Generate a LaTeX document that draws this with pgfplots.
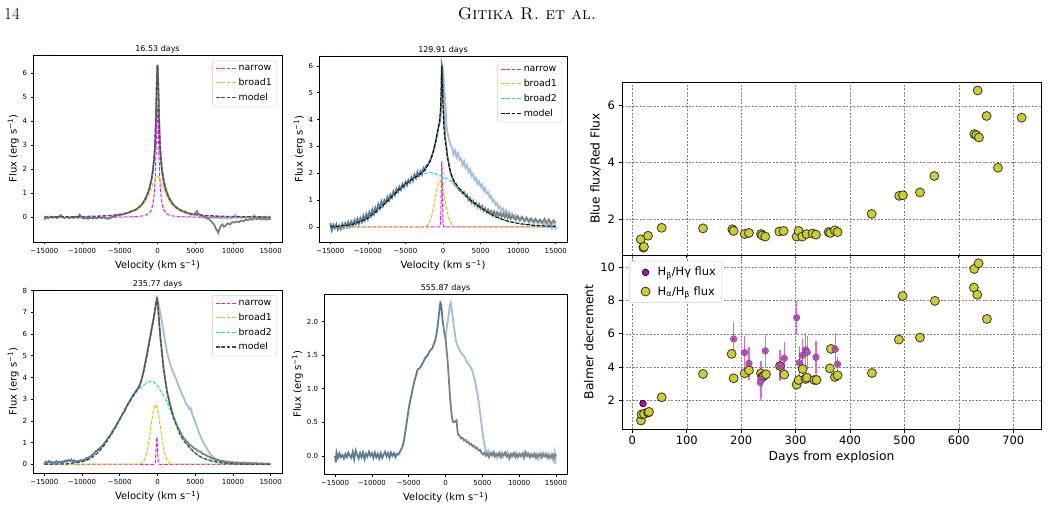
\documentclass[border=0pt]{standalone}
\usepackage{fontspec}
\usepackage{pgfplots}
\pgfplotsset{compat=1.18}
\newfontfamily\dv{DejaVu Sans}
\definecolor{darkb}{RGB}{94,123,149}
\definecolor{lightb}{RGB}{160,190,220}
\definecolor{greyc}{RGB}{128,128,128}
\definecolor{nar}{RGB}{228,30,228}
\definecolor{br1}{RGB}{205,200,20}
\definecolor{br2}{RGB}{50,205,205}
\definecolor{yel}{RGB}{204,204,51}
\definecolor{mag}{RGB}{191,0,191}
\definecolor{magl}{RGB}{212,90,212}
\definecolor{errc}{RGB}{218,105,218}
\pgfplotsset{
  spec/.style={scale only axis, xmin=-16500, xmax=16500,
    xtick={-15000,-10000,-5000,0,5000,10000,15000},
    xticklabels={−15000,−10000,−5000,0,5000,10000,15000},
    scaled x ticks=false, scaled y ticks=false,
    tick align=outside, xtick pos=left, ytick pos=left,
    major tick length=2.5pt, tick style={black,line width=0.6pt},
    axis line style={line width=0.7pt},
    ticklabel style={font=\dv\fontsize{7}{8}\selectfont},
    label style={font=\dv\fontsize{10}{12}\selectfont},
    xlabel={Velocity (km s\textsuperscript{−1})},
    ylabel={Flux (erg s\textsuperscript{−1})},
    ylabel style={xshift=0pt, yshift=-3pt},
    title style={font=\dv\fontsize{8}{9}\selectfont, yshift=-8pt},
    legend image code/.code={\draw[#1, line width=1.4pt] (0pt,0pt) -- (20pt,0pt);},
    legend style={at={(0.98,0.97)}, anchor=north east, font=\dv\fontsize{9.4}{11}\selectfont,
      draw=black!20, rounded corners=2pt, inner xsep=3pt, inner ysep=2.5pt, row sep=2.2pt,
      /tikz/every even column/.append style={column sep=4pt}},
    legend cell align=left},
  dk/.style={darkb, line width=1.8pt},
  lb/.style={lightb, line width=1.8pt},
  gr/.style={greyc, line width=1.8pt},
  nr/.style={nar, line width=1pt, dash pattern=on 3.7pt off 1.6pt},
  b1/.style={br1, line width=1pt, dash pattern=on 3.7pt off 1.6pt},
  b2/.style={br2, line width=1pt, dash pattern=on 3.7pt off 1.6pt},
  md/.style={black, line width=1.0pt, dash pattern=on 3.7pt off 1.6pt},
  mdg/.style={black!70, line width=1.3pt, dash pattern=on 3.7pt off 1.6pt},
  bal/.style={scale only axis, width=419pt, xmin=-19, xmax=751,
    xtick={0,100,200,300,400,500,600,700},
    grid=major, grid style={dash pattern=on 2pt off 1.5pt, black!50, line width=0.5pt},
    tick align=outside, xtick pos=left, ytick pos=left,
    major tick length=3.5pt, tick style={black,line width=0.8pt},
    axis line style={line width=0.8pt},
    ticklabel style={font=\dv\fontsize{11.5}{13}\selectfont},
    label style={font=\dv\fontsize{12.3}{14}\selectfont}},
  ym/.style={only marks, mark=*, mark size=4.5pt, mark options={fill=yel, draw=black, draw opacity=0.75, line width=0.8pt}},
  mm/.style={only marks, mark=*, mark size=3.3pt, mark options={fill=magl, fill opacity=0.8, draw=black!60!mag, draw opacity=0.6, line width=0.6pt}}
}
\begin{document}
\begin{tikzpicture}
\useasboundingbox (0pt,0pt) rectangle (1048pt,506pt);
\node[anchor=base west, inner sep=0pt, font=\fontsize{17}{17}\selectfont] at (4pt,486pt) {14};
\node[anchor=base, inner sep=0pt, font=\fontsize{17}{17}\selectfont] at (527pt,486pt) {\textsc{Gitika R. et al.}};

% ---------- Panel 1 ----------
\begin{axis}[spec, width=249pt, height=187pt, at={(33pt,264pt)}, anchor=south west,
  ymin=-1.03, ymax=6.76, ytick={0,1,2,3,4,5,6}, yticklabels={0,1,2,3,4,5,6},
  title={16.53 days}]
\addlegendimage{nr}\addlegendentry{narrow}
\addlegendimage{b1}\addlegendentry{broad1}
\addlegendimage{mdg}\addlegendentry{model}
\addplot[lb, forget plot] coordinates {(0,6.35)(100,5.6)(200,4.3)(300,3.3)(400,2.7)(600,2.0)(800,1.6)(1000,1.32)(1200,1.1)(1500,0.86)(1700,0.74)(2000,0.58)(2200,0.5)(2500,0.42)(2700,0.37)(3000,0.31)(3200,0.29)(3500,0.26)(3800,0.21)(4100,0.18)(4400,0.14)(4700,0.12)(5000,0.1)(5300,0.08)(5600,0.05)(5900,0.03)(6200,-0.02)(6500,-0.06)(6800,-0.05)(7100,0.0)(7400,-0.03)(7700,0.01)(8000,-0.04)(8300,-0.02)(8600,-0.05)(8900,-0.01)(9200,-0.06)(9500,-0.02)(9800,-0.05)(10100,0.0)(10300,0.1)(10500,-0.02)(10800,0.02)(11100,-0.03)(11400,0.01)(11700,-0.04)(12000,0.02)(12300,-0.03)(12600,0.0)(12800,0.09)(13000,0.03)(13300,-0.03)(13600,0.02)(13900,-0.02)(14200,0.03)(14500,-0.04)(14800,0.02)(15000,-0.1)};
\addplot[gr, forget plot] coordinates {(0,6.3)(100,5.4)(200,4.1)(300,3.2)(400,2.6)(600,1.9)(800,1.52)(1000,1.25)(1200,1.05)(1500,0.8)(2000,0.55)(2500,0.4)(3000,0.3)(3500,0.22)(4000,0.16)(4500,0.11)(4900,0.12)(5100,0.22)(5250,0.26)(5400,0.15)(5700,0.1)(6000,0.06)(6300,0.03)(6600,-0.02)(6900,-0.1)(7200,-0.2)(7500,-0.3)(7700,-0.45)(7900,-0.55)(8050,-0.65)(8200,-0.5)(8400,-0.35)(8600,-0.3)(8800,-0.4)(9000,-0.35)(9300,-0.25)(9600,-0.3)(9900,-0.2)(10200,-0.22)(10500,-0.18)(10800,-0.2)(11100,-0.14)(11400,-0.16)(11700,-0.1)(12000,-0.12)(12300,-0.07)(12600,-0.1)(12900,-0.04)(13200,-0.08)(13500,-0.05)(13800,-0.09)(14100,-0.06)(14400,-0.1)(14700,-0.05)(15000,-0.1)};
\addplot[dk, forget plot] coordinates {(-15000,-0.10)(-14800,0.02)(-14500,-0.04)(-14200,0.03)(-13900,-0.02)(-13600,0.02)(-13300,-0.03)(-13000,0.03)(-12800,0.09)(-12600,0.0)(-12300,-0.03)(-12000,0.02)(-11700,-0.04)(-11400,0.01)(-11100,-0.03)(-10800,0.02)(-10500,-0.02)(-10300,0.10)(-10100,0.0)(-9800,-0.05)(-9500,-0.02)(-9200,-0.06)(-8900,-0.01)(-8600,-0.05)(-8300,-0.02)(-8000,-0.04)(-7700,0.01)(-7400,-0.03)(-7100,0.0)(-6800,-0.05)(-6500,-0.06)(-6200,-0.02)(-5900,0.03)(-5600,0.04)(-5300,0.08)(-5000,0.1)(-4700,0.11)(-4400,0.13)(-4100,0.17)(-3800,0.2)(-3500,0.25)(-3200,0.28)(-3000,0.3)(-2700,0.35)(-2500,0.4)(-2200,0.48)(-2000,0.56)(-1700,0.72)(-1500,0.84)(-1200,1.08)(-1000,1.3)(-800,1.58)(-600,1.97)(-400,2.65)(-300,3.25)(-200,4.22)(-100,5.55)(0,6.35)};
\addplot[nr, forget plot] coordinates {(-15000,0)(-5000,0.009)(-4000,0.014)(-3000,0.025)(-2500,0.036)(-2000,0.056)(-1500,0.098)(-1200,0.151)(-1000,0.214)(-800,0.33)(-600,0.55)(-400,1.08)(-300,1.63)(-200,2.55)(-100,3.85)(0,4.65)(100,3.85)(200,2.55)(300,1.63)(400,1.08)(600,0.55)(800,0.33)(1000,0.214)(1200,0.151)(1500,0.098)(2000,0.056)(2500,0.036)(3000,0.025)(4000,0.014)(5000,0.009)(15000,0)};
\addplot[b1, forget plot] coordinates {(-15000,0.013)(-12000,0.02)(-10000,0.028)(-8000,0.044)(-6000,0.076)(-5000,0.108)(-4000,0.162)(-3000,0.269)(-2500,0.362)(-2000,0.505)(-1500,0.729)(-1200,0.918)(-1000,1.068)(-800,1.233)(-600,1.401)(-400,1.553)(-200,1.66)(0,1.70)(200,1.66)(400,1.553)(600,1.401)(800,1.233)(1000,1.068)(1200,0.918)(1500,0.729)(2000,0.505)(2500,0.362)(3000,0.269)(4000,0.162)(5000,0.108)(6000,0.076)(8000,0.044)(10000,0.028)(12000,0.02)(15000,0.013)};
\addplot[mdg, forget plot] coordinates {(-15000,0.013)(-12000,0.02)(-10000,0.03)(-8000,0.045)(-6000,0.08)(-5000,0.12)(-4000,0.18)(-3000,0.29)(-2500,0.40)(-2000,0.56)(-1500,0.83)(-1200,1.07)(-1000,1.28)(-800,1.56)(-600,1.95)(-400,2.63)(-300,3.24)(-200,4.21)(-100,5.54)(0,6.35)(100,5.54)(200,4.21)(300,3.24)(400,2.63)(600,1.95)(800,1.56)(1000,1.28)(1200,1.07)(1500,0.83)(2000,0.56)(2500,0.40)(3000,0.29)(4000,0.18)(5000,0.12)(6000,0.08)(8000,0.045)(10000,0.03)(12000,0.02)(15000,0.013)};
\node[anchor=south west, inner sep=0.5pt, font=\dv\fontsize{7}{8}\selectfont] at (rel axis cs:0,1) {1e−15};
\end{axis}

% ---------- Panel 2 ----------
\begin{axis}[spec, width=248pt, height=186pt, at={(319pt,264pt)}, anchor=south west,
  ymin=-0.56, ymax=6.37, ytick={0,1,2,3,4,5,6}, yticklabels={0,1,2,3,4,5,6},
  title={129.91 days}]
\addlegendimage{nr}\addlegendentry{narrow}
\addlegendimage{b1}\addlegendentry{broad1}
\addlegendimage{b2}\addlegendentry{broad2}
\addlegendimage{md}\addlegendentry{model}
\addplot[lb, forget plot] coordinates {(-140,6.0)(0,5.9)(150,5.2)(300,4.7)(450,3.8)(600,3.5)(800,3.25)(1000,3.05)(1200,2.95)(1400,2.7)(1600,2.85)(1800,2.6)(2000,2.75)(2200,2.5)(2400,2.55)(2600,2.3)(2800,2.45)(3000,2.2)(3200,2.3)(3400,2.05)(3600,2.15)(3800,1.9)(4000,1.98)(4200,1.75)(4400,1.82)(4600,1.6)(4800,1.7)(5000,1.5)(5200,1.58)(5400,1.35)(5600,1.45)(5800,1.25)(6000,1.3)(6200,1.1)(6400,1.15)(6600,0.95)(6800,1.0)(7000,0.82)(7200,0.88)(7400,0.7)(7600,0.75)(7800,0.6)(8000,0.68)(8200,0.5)(8400,0.62)(8600,0.45)(8800,0.55)(9000,0.38)(9200,0.5)(9400,0.33)(9600,0.45)(9800,0.28)(10000,0.4)(10300,0.25)(10600,0.35)(10900,0.2)(11200,0.3)(11500,0.15)(11800,0.28)(12100,0.12)(12400,0.25)(12700,0.1)(13000,0.22)(13300,0.05)(13600,0.2)(13900,0.02)(14200,0.18)(14500,-0.05)(14800,0.15)(15000,-0.1)};
\addplot[gr, forget plot] coordinates {(-140,6.0)(0,5.0)(100,4.2)(200,3.7)(300,3.3)(450,3.0)(600,2.6)(750,2.4)(900,2.15)(1000,2.0)(1200,1.85)(1400,1.7)(1600,1.6)(1800,1.5)(2000,1.45)(2200,1.35)(2400,1.38)(2600,1.25)(2800,1.3)(3000,1.15)(3200,1.2)(3400,1.0)(3600,1.08)(3800,0.9)(4000,0.98)(4200,0.82)(4400,0.9)(4600,0.75)(4800,0.85)(5000,0.68)(5200,0.78)(5400,0.6)(5600,0.7)(5800,0.55)(6000,0.65)(6200,0.5)(6400,0.6)(6600,0.45)(6800,0.58)(7000,0.42)(7200,0.55)(7400,0.4)(7600,0.52)(7800,0.38)(8000,0.5)(8200,0.36)(8400,0.48)(8600,0.33)(8800,0.45)(9000,0.3)(9300,0.42)(9600,0.28)(9900,0.4)(10200,0.25)(10500,0.38)(10800,0.22)(11100,0.35)(11400,0.2)(11700,0.32)(12000,0.2)(12300,0.3)(12600,0.18)(12900,0.28)(13200,0.16)(13500,0.3)(13800,0.15)(14100,0.28)(14400,0.12)(14700,0.25)(15000,0.15)};
\addplot[dk, forget plot] coordinates {(-15000,0.15)(-14800,-0.12)(-14600,0.08)(-14400,-0.05)(-14200,0.1)(-14000,-0.1)(-13800,0.05)(-13600,-0.08)(-13400,0.12)(-13200,-0.02)(-13000,0.14)(-12800,0.0)(-12600,0.18)(-12400,0.02)(-12200,0.2)(-12000,0.06)(-11800,0.25)(-11600,0.1)(-11400,0.3)(-11200,0.12)(-11000,0.33)(-10800,0.18)(-10600,0.42)(-10400,0.25)(-10200,0.48)(-10000,0.3)(-9800,0.55)(-9600,0.4)(-9400,0.65)(-9200,0.48)(-9000,0.72)(-8800,0.58)(-8600,0.85)(-8400,0.7)(-8200,0.95)(-8000,0.78)(-7800,1.0)(-7600,0.9)(-7400,1.12)(-7200,0.98)(-7000,1.2)(-6800,1.08)(-6600,1.32)(-6400,1.18)(-6200,1.42)(-6000,1.3)(-5800,1.5)(-5600,1.38)(-5400,1.6)(-5200,1.48)(-5000,1.68)(-4800,1.55)(-4600,1.75)(-4400,1.65)(-4200,1.85)(-4000,1.72)(-3800,1.95)(-3600,1.82)(-3400,2.05)(-3200,1.9)(-3000,2.08)(-2800,1.95)(-2600,2.2)(-2400,2.12)(-2200,2.3)(-2000,2.32)(-1800,2.45)(-1600,2.55)(-1400,2.72)(-1200,2.9)(-1000,3.15)(-850,3.35)(-700,3.55)(-550,3.8)(-400,3.95)(-300,4.3)(-220,5.0)(-160,6.05)(-120,6.0)};
\addplot[nr, forget plot] coordinates {(-15000,0)(-450,0)(-330,0.15)(-250,1.0)(-190,2.2)(-160,2.45)(-120,2.1)(-60,1.0)(0,0.2)(100,0)(15000,0)};
\addplot[b1, forget plot] coordinates {(-15000,0)(-2600,0.006)(-2200,0.037)(-1900,0.12)(-1600,0.31)(-1400,0.52)(-1200,0.80)(-1000,1.11)(-800,1.41)(-600,1.62)(-400,1.7)(-200,1.62)(0,1.41)(200,1.11)(400,0.80)(600,0.52)(800,0.31)(1100,0.12)(1400,0.037)(1800,0.006)(15000,0)};
\addplot[b2, forget plot] coordinates {(-15000,0.0)(-13000,0.05)(-12000,0.1)(-11000,0.2)(-10000,0.33)(-9000,0.55)(-8000,0.8)(-7000,1.08)(-6000,1.35)(-5000,1.6)(-4000,1.8)(-3000,1.95)(-2000,2.02)(-1500,2.02)(-1000,1.98)(-500,1.93)(0,1.87)(1000,1.72)(1420,1.6)(2500,1.3)(3650,1.0)(5000,0.72)(5890,0.55)(7000,0.38)(8130,0.25)(10000,0.12)(12000,0.05)(15000,0.02)};
\addplot[md, forget plot] coordinates {(-15000,0.0)(-13000,0.05)(-12000,0.1)(-11000,0.2)(-10000,0.33)(-9000,0.55)(-8000,0.8)(-7000,1.08)(-6000,1.35)(-5000,1.6)(-4000,1.8)(-3000,1.97)(-2500,2.1)(-2000,2.3)(-1700,2.44)(-1400,2.7)(-1000,3.15)(-700,3.6)(-500,3.85)(-350,4.3)(-250,5.0)(-160,6.0)(-60,5.0)(0,4.5)(100,3.8)(200,3.4)(400,3.0)(600,2.6)(800,2.3)(1000,2.05)(1400,1.75)(2000,1.5)(2500,1.32)(3000,1.17)(3650,1.0)(4500,0.82)(5000,0.72)(5900,0.55)(7000,0.38)(8100,0.26)(9000,0.19)(10350,0.12)(12500,0.05)(15000,0.02)};
\node[anchor=south west, inner sep=0.5pt, font=\dv\fontsize{7}{8}\selectfont] at (rel axis cs:0,1) {1e−15};
\end{axis}

% ---------- Panel 3 ----------
\begin{axis}[spec, width=249pt, height=183pt, at={(33pt,33pt)}, anchor=south west,
  ymin=-0.4, ymax=8.03, ytick={0,1,2,3,4,5,6,7,8}, yticklabels={0,1,2,3,4,5,6,7,8},
  title={235.77 days}]
\addlegendimage{nr}\addlegendentry{narrow}
\addlegendimage{b1}\addlegendentry{broad1}
\addlegendimage{b2}\addlegendentry{broad2}
\addlegendimage{mdg}\addlegendentry{model}
\addplot[lb, forget plot] coordinates {(-100,7.6)(0,7.65)(150,7.35)(300,7.1)(450,6.8)(600,6.55)(800,6.1)(1000,5.65)(1250,5.2)(1500,4.85)(1750,4.55)(2000,4.3)(2250,4.1)(2500,3.9)(2750,3.65)(3000,3.45)(3250,3.2)(3500,3.05)(3750,2.8)(4000,2.7)(4200,2.55)(4400,2.6)(4600,2.3)(4800,2.15)(5000,1.95)(5250,1.7)(5500,1.45)(5750,1.25)(6000,1.05)(6250,0.9)(6500,0.75)(6750,0.6)(7000,0.48)(7250,0.38)(7500,0.3)(7750,0.25)(8000,0.2)(8300,0.15)(8600,0.12)(9000,0.1)(9400,0.12)(9800,0.08)(10200,0.1)(10600,0.05)(11000,0.08)(11400,0.04)(11800,0.07)(12200,0.03)(12600,0.06)(13000,0.02)(13400,0.05)(13800,0.01)(14200,0.04)(14600,0.0)(15000,0.02)};
\addplot[gr, forget plot] coordinates {(-100,7.55)(0,7.5)(200,6.6)(360,5.9)(600,5.1)(800,4.45)(1000,3.95)(1250,3.4)(1500,3.0)(1800,2.6)(2120,2.2)(2400,1.95)(2700,1.7)(3000,1.5)(3300,1.3)(3600,1.15)(3900,1.05)(4200,0.92)(4500,0.85)(4800,0.75)(5100,0.7)(5400,0.6)(5700,0.58)(6000,0.48)(6300,0.45)(6600,0.38)(6900,0.35)(7200,0.28)(7500,0.25)(7800,0.2)(8100,0.2)(8400,0.15)(8700,0.16)(9000,0.12)(9300,0.13)(9600,0.08)(9900,0.1)(10200,0.06)(10600,0.09)(11000,0.05)(11400,0.08)(11800,0.04)(12200,0.07)(12600,0.03)(13000,0.06)(13400,0.02)(13800,0.05)(14200,0.01)(14600,0.04)(15000,0.0)};
\addplot[dk, forget plot] coordinates {(-15000,0.0)(-14800,0.12)(-14600,0.05)(-14400,0.15)(-14200,0.08)(-14000,0.12)(-13800,0.05)(-13600,0.1)(-13400,0.15)(-13200,0.08)(-13000,0.12)(-12800,0.06)(-12600,0.14)(-12400,0.1)(-12200,0.18)(-12000,0.12)(-11800,0.2)(-11600,0.15)(-11400,0.22)(-11200,0.12)(-11000,0.18)(-10800,0.1)(-10600,0.16)(-10400,0.12)(-10200,0.2)(-10000,0.14)(-9800,0.22)(-9600,0.2)(-9400,0.3)(-9200,0.28)(-9000,0.35)(-8800,0.38)(-8600,0.45)(-8400,0.5)(-8200,0.6)(-8000,0.62)(-7800,0.72)(-7600,0.75)(-7400,0.85)(-7200,0.9)(-7000,1.0)(-6800,1.08)(-6600,1.2)(-6400,1.28)(-6200,1.38)(-6000,1.5)(-5800,1.62)(-5600,1.7)(-5400,1.85)(-5200,1.95)(-5000,2.1)(-4800,2.2)(-4600,2.35)(-4400,2.42)(-4200,2.6)(-4000,2.72)(-3800,2.85)(-3600,2.95)(-3400,3.1)(-3200,3.2)(-3000,3.3)(-2800,3.4)(-2600,3.5)(-2400,3.62)(-2200,3.8)(-2000,4.05)(-1800,4.35)(-1600,4.7)(-1400,5.05)(-1200,5.45)(-1000,5.8)(-800,6.2)(-600,6.55)(-400,6.95)(-250,7.3)(-100,7.6)};
\addplot[nr, forget plot] coordinates {(-15000,0)(-430,0)(-280,0.1)(-200,0.55)(-130,1.15)(-80,1.25)(-30,1.0)(40,0.4)(120,0.08)(270,0)(15000,0)};
\addplot[b1, forget plot] coordinates {(-15000,0)(-2450,0.01)(-2050,0.06)(-1750,0.19)(-1450,0.50)(-1250,0.84)(-1050,1.29)(-850,1.80)(-650,2.28)(-450,2.62)(-250,2.75)(-50,2.62)(150,2.28)(350,1.80)(550,1.29)(750,0.84)(950,0.50)(1250,0.19)(1550,0.06)(1950,0.01)(15000,0)};
\addplot[b2, forget plot] coordinates {(-15000,0)(-12000,0.02)(-10000,0.12)(-9000,0.25)(-8000,0.5)(-7000,0.9)(-6000,1.45)(-5000,2.07)(-4000,2.7)(-3000,3.25)(-2000,3.6)(-1500,3.74)(-1000,3.81)(-750,3.82)(-500,3.79)(0,3.62)(360,3.42)(800,3.15)(1250,2.88)(1900,2.35)(2500,1.85)(3000,1.42)(4000,0.85)(5000,0.5)(6000,0.28)(7000,0.15)(8000,0.07)(9000,0.03)(10000,0.01)(15000,0)};
\addplot[mdg, forget plot] coordinates {(-15000,0)(-12000,0.02)(-10000,0.12)(-9000,0.25)(-8000,0.5)(-7000,0.9)(-6000,1.45)(-5000,2.07)(-4000,2.72)(-3000,3.28)(-2300,3.65)(-1850,4.27)(-1400,5.04)(-1000,5.8)(-500,6.75)(-80,7.65)(0,7.55)(200,6.7)(360,5.96)(600,5.1)(800,4.42)(1000,3.95)(1250,3.35)(1600,2.8)(2120,2.12)(2500,1.8)(3010,1.35)(3500,1.08)(4000,0.88)(4340,0.74)(5000,0.52)(5670,0.35)(6300,0.26)(7000,0.18)(8330,0.09)(9000,0.05)(10000,0.02)(12000,0.0)(15000,0.0)};
\node[anchor=south west, inner sep=0.5pt, font=\dv\fontsize{7}{8}\selectfont] at (rel axis cs:0,1) {1e−15};
\end{axis}

% ---------- Panel 4 ----------
\begin{axis}[spec, width=243pt, height=180pt, at={(324pt,32pt)}, anchor=south west,
  ymin=-0.27, ymax=2.41, ytick={0,0.5,1,1.5,2}, yticklabels={0.0,0.5,1.0,1.5,2.0},
  title={555.87 days}]
\addplot[lb, forget plot] coordinates {(0,1.75)(150,1.9)(300,2.0)(450,2.12)(600,2.25)(700,2.28)(850,2.18)(1000,2.05)(1200,1.88)(1400,1.72)(1600,1.65)(1800,1.6)(2000,1.56)(2200,1.52)(2400,1.5)(2600,1.47)(2800,1.42)(3000,1.38)(3200,1.36)(3400,1.32)(3600,1.28)(3800,1.2)(4000,1.12)(4200,1.0)(4400,0.88)(4600,0.72)(4800,0.55)(5000,0.38)(5200,0.22)(5400,0.1)(5600,0.05)(5800,0.08)(6000,0.02)(6200,0.05)(6400,0.0)(6600,0.06)(6800,0.01)(7000,-0.03)(7200,0.04)(7400,0.0)(7600,0.05)(7800,-0.02)(8000,0.03)(8200,0.01)(8400,0.06)(8600,-0.04)(8800,0.02)(9000,-0.02)(9200,0.04)(9400,0.0)(9600,0.05)(9800,-0.02)(10000,0.03)(10200,-0.01)(10400,0.02)(10600,-0.03)(10800,0.06)(11000,0.0)(11200,0.04)(11400,-0.02)(11600,0.03)(11800,0.0)(12000,0.04)(12200,-0.02)(12400,0.03)(12600,-0.05)(12800,0.02)(13000,-0.03)(13200,0.05)(13400,0.0)(13600,0.04)(13800,-0.02)(14000,0.03)(14200,-0.04)(14400,0.02)(14600,-0.06)(14800,0.05)(14900,-0.12)(15000,0.02)};
\addplot[gr, forget plot] coordinates {(-300,1.95)(-200,1.85)(0,1.75)(130,1.6)(300,1.4)(450,1.15)(600,0.9)(750,0.7)(900,0.56)(1050,0.5)(1200,0.5)(1350,0.52)(1500,0.53)(1600,0.4)(1700,0.32)(1900,0.3)(2100,0.26)(2300,0.27)(2500,0.23)(2700,0.24)(2900,0.2)(3100,0.21)(3300,0.17)(3500,0.18)(3700,0.14)(3900,0.15)(4100,0.11)(4300,0.12)(4500,0.08)(4700,0.09)(4900,0.04)(5100,0.02)(5300,0.05)(5500,0.0)(5700,0.03)(5900,-0.02)(6100,0.04)(6300,0.01)(6500,0.05)(6700,-0.01)(6900,0.03)(7100,0.0)(7300,0.04)(7500,-0.02)(7700,0.03)(7900,0.01)(8100,0.05)(8300,-0.01)(8500,0.02)(8700,-0.03)(8900,0.03)(9100,0.0)(9300,0.04)(9500,-0.02)(9700,0.02)(9900,-0.01)(10100,0.03)(10300,0.0)(10500,0.04)(10700,-0.02)(10900,0.05)(11100,0.0)(11300,0.03)(11500,-0.02)(11700,0.02)(11900,-0.01)(12100,0.03)(12300,-0.03)(12500,0.02)(12700,0.0)(12900,0.03)(13100,-0.02)(13300,0.02)(13500,-0.01)(13700,0.02)(13900,-0.03)(14100,0.01)(14300,-0.02)(14500,0.02)(14700,-0.03)(14900,0.02)(15000,0.0)};
\addplot[dk, forget plot] coordinates {(-15000,0.0)(-14900,-0.1)(-14800,0.05)(-14600,-0.03)(-14400,0.04)(-14200,-0.02)(-14000,0.01)(-13800,-0.04)(-13600,0.03)(-13400,-0.02)(-13200,0.05)(-13000,0.0)(-12800,-0.03)(-12600,0.06)(-12400,-0.05)(-12200,0.08)(-12000,0.02)(-11800,-0.04)(-11600,0.04)(-11400,-0.02)(-11200,0.05)(-11000,-0.05)(-10800,0.03)(-10600,-0.01)(-10400,0.06)(-10200,0.0)(-10000,0.04)(-9800,-0.03)(-9600,0.05)(-9400,-0.02)(-9200,0.03)(-9000,-0.04)(-8800,0.04)(-8600,-0.03)(-8400,0.02)(-8200,0.06)(-8000,-0.01)(-7800,0.04)(-7600,-0.03)(-7400,0.05)(-7200,0.0)(-7000,0.04)(-6800,-0.02)(-6600,0.03)(-6400,0.02)(-6200,0.06)(-6000,0.1)(-5800,0.15)(-5600,0.25)(-5400,0.4)(-5200,0.55)(-5000,0.7)(-4800,0.82)(-4600,0.92)(-4400,1.03)(-4200,1.12)(-4000,1.2)(-3800,1.28)(-3600,1.3)(-3400,1.32)(-3200,1.36)(-3000,1.4)(-2800,1.45)(-2600,1.48)(-2400,1.5)(-2200,1.55)(-2000,1.58)(-1800,1.6)(-1600,1.66)(-1400,1.72)(-1200,1.82)(-1000,2.0)(-850,2.15)(-700,2.28)(-600,2.26)(-500,2.15)(-400,2.02)(-300,1.95)};
\node[anchor=south west, inner sep=0.5pt, font=\dv\fontsize{7}{8}\selectfont] at (rel axis cs:0,1) {1e−15};
\end{axis}

% ---------- Right top ----------
\begin{axis}[bal, height=173pt, at={(622pt,251pt)}, anchor=south west,
  ymin=0.73, ymax=6.84, ytick={2,4,6}, yticklabels={2,4,6}, xticklabels={},
  ylabel={Blue flux/Red Flux}]
\addplot[ym] coordinates {(15.3,1.28)(20.2,0.99)(21.4,1.02)(28.8,1.41)(53.9,1.69)(129.8,1.67)(183.7,1.64)(186.2,1.58)(206.4,1.47)(214.3,1.51)(236.4,1.47)(238.8,1.42)(244.3,1.38)(270,1.56)(278,1.58)(301.9,1.38)(305.6,1.58)(312.3,1.38)(320.3,1.47)(331.3,1.49)(337.4,1.45)(360.7,1.54)(363.7,1.51)(372.3,1.6)(377.2,1.54)(439.8,2.18)(490.5,2.82)(497.3,2.84)(528.6,2.94)(554.9,3.52)(628.4,5.0)(632.1,4.96)(637,4.88)(634.6,6.54)(651.1,5.64)(671.9,3.81)(715.4,5.58)};
\end{axis}

% ---------- Right bottom ----------
\begin{axis}[bal, height=174pt, at={(622pt,77pt)}, anchor=south west,
  ymin=0.27, ymax=10.74, ytick={2,4,6,8,10}, yticklabels={2,4,6,8,10},
  xticklabels={0,100,200,300,400,500,600,700},
  xlabel={Days from explosion}, ylabel={Balmer decrement},
  legend image code/.code={\path (0pt,0pt) (22pt,0pt); \draw[#1] plot coordinates {(12pt,0pt)};},
  legend style={at={(0.017,0.965)}, anchor=north west, font=\dv\fontsize{11.4}{13}\selectfont,
    draw=black!20, rounded corners=2pt, inner xsep=4pt, inner ysep=4pt, row sep=5pt,
    /tikz/every even column/.append style={column sep=6pt}},
  legend cell align=left]
\addlegendimage{only marks, mark=*, mark size=3.3pt, mark options={fill=mag, draw=black, line width=0.7pt}}
\addlegendentry{H\textsubscript{β}/Hγ flux}
\addlegendimage{ym}
\addlegendentry{H\textsubscript{α}/H\textsubscript{β} flux}
\addplot[ym, forget plot] coordinates {(15.9,0.78)(17.1,1.15)(21.4,1.18)(28.8,1.26)(30.6,1.3)(53.9,2.18)(129.8,3.58)(182.5,4.79)(186.2,3.32)(206.4,3.62)(214.3,3.8)(236.4,3.62)(238.8,3.4)(241.9,3.48)(245.6,3.56)(271.3,4.06)(279.2,3.54)(301.9,2.94)(305.6,3.22)(312.9,3.88)(318.4,3.28)(320.9,3.36)(334.3,3.22)(338.6,3.22)(363.1,3.92)(365,5.09)(372.3,3.4)(377.2,3.5)(440.3,3.64)(489.9,5.65)(496.6,8.27)(528.5,5.77)(556,7.98)(627.7,8.78)(628.3,9.9)(633.8,8.35)(636.3,10.24)(651.6,6.89)};
\addplot[forget plot, only marks, mark=none, error bars/.cd, y dir=both, y explicit, error mark=none,
  error bar style={draw=errc, line width=1.4pt, solid}] coordinates {
  (186.2,5.69) +- (0,1.0) (206.4,4.87) +- (0,1.0) (214.3,4.22) +- (0,1.0) (236.4,3.26) +- (0,1.1)
  (235.2,3.06) +- (0,1.05) (244.3,4.97) +- (0,1.0) (271.3,4.08) +- (0,0.95) (279.2,4.52) +- (0,1.0)
  (301.9,6.97) +- (0,1.0) (306.8,4.26) +- (0,1.0) (312.3,4.7) +- (0,1.0) (318.4,5.03) +- (0,1.0)
  (321.5,4.89) +- (0,1.0) (337.4,4.59) +- (0,1.0) (372.9,5.07) +- (0,1.0) (377.2,4.18) +- (0,0.4)};
\addplot[mm, forget plot] coordinates {(186.2,5.69)(206.4,4.87)(214.3,4.22)(236.4,3.26)(235.2,3.06)(244.3,4.97)(271.3,4.08)(279.2,4.52)(301.9,6.97)(306.8,4.26)(312.3,4.7)(318.4,5.03)(321.5,4.89)(337.4,4.59)(372.9,5.07)(377.2,4.18)};
\addplot[only marks, mark=*, mark size=3.3pt, mark options={fill=mag, draw=black, line width=0.7pt}, forget plot] coordinates {(19.6,1.8)};
\end{axis}
\end{tikzpicture}
\end{document}
